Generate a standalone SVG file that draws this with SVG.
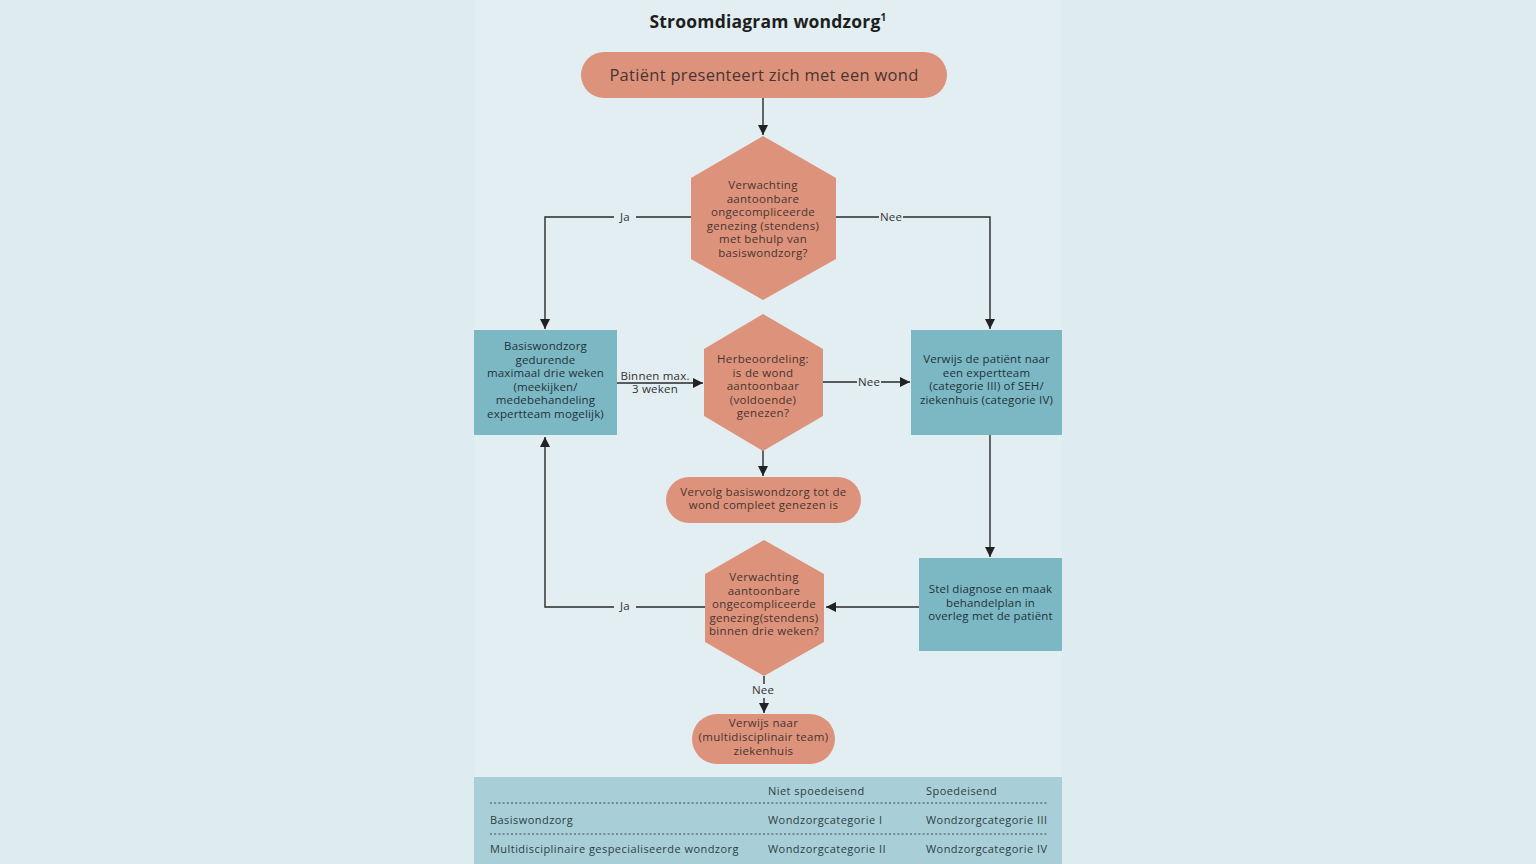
<svg xmlns="http://www.w3.org/2000/svg" width="1536" height="864" viewBox="0 0 1536 864">
<defs>
<marker id="ah" viewBox="0 0 10 10" refX="10" refY="5" markerWidth="10" markerHeight="10" markerUnits="userSpaceOnUse" orient="auto">
<path d="M0,0 L10,5 L0,10 Z" fill="#222"/>
</marker>
<style>
.t{font-family:"Open Sans","Noto Sans",sans-serif;text-anchor:middle;}
.n{font-size:11.5px;fill:#4a3431;letter-spacing:0.3px;}
.b{font-size:11.5px;fill:#1f3339;letter-spacing:0.15px;}
.sal{fill:#dd937b;}
.blu{fill:#7cb8c4;}
.ln{stroke:#2a2a2a;stroke-width:1.4;fill:none;}
.lab{font-family:"Open Sans","Noto Sans",sans-serif;font-size:11.5px;fill:#333;text-anchor:middle;letter-spacing:0.2px;}
.tb{font-family:"Open Sans","Noto Sans",sans-serif;font-size:11px;fill:#2e3e42;letter-spacing:0.45px;}
.dot{stroke:#3b4b50;stroke-width:1.2;stroke-dasharray:2 2.2;}
</style>
</defs>
<rect width="1536" height="864" fill="#deebf0"/>
<rect x="474" y="0" width="588" height="864" fill="#e2eef2"/>
<text x="768" y="28" style="font-family:'Open Sans','Noto Sans',sans-serif;font-weight:bold;font-size:17.5px;letter-spacing:0.2px;fill:#1e1e1e;text-anchor:middle">Stroomdiagram wondzorg<tspan font-size="10" dy="-7">1</tspan></text>

<g id="connectors">
<line class="ln" x1="763" y1="97" x2="763" y2="135" marker-end="url(#ah)"/>
<path class="ln" d="M691,217 H636 M614,217 H545 V329" marker-end="url(#ah)"/>
<path class="ln" d="M836,217 H879 M903,217 H990 V329" marker-end="url(#ah)"/>
<line class="ln" x1="617" y1="383" x2="703" y2="383" marker-end="url(#ah)"/>
<path class="ln" d="M823,382 H857 M881,382 H910" marker-end="url(#ah)"/>
<line class="ln" x1="763" y1="450" x2="763" y2="476" marker-end="url(#ah)"/>
<line class="ln" x1="990" y1="435" x2="990" y2="557" marker-end="url(#ah)"/>
<line class="ln" x1="919" y1="607" x2="826" y2="607" marker-end="url(#ah)"/>
<path class="ln" d="M705,607 H636 M614,607 H545 V437" marker-end="url(#ah)"/>
<path class="ln" d="M764,676 V684 M764,698 V713" marker-end="url(#ah)"/>
<text class="lab" x="625" y="221">Ja</text>
<text class="lab" x="891" y="221">Nee</text>
<text class="lab" x="655" y="380">Binnen max.</text>
<text class="lab" x="655" y="393">3 weken</text>
<text class="lab" x="869" y="386">Nee</text>
<text class="lab" x="625" y="610">Ja</text>
<text class="lab" x="763" y="694">Nee</text>
</g>

<g id="start">
<rect class="sal" x="581" y="52" width="366" height="46" rx="23"/>
<text class="t" x="764" y="81" style="font-size:16.5px;letter-spacing:0.3px;fill:#4a3431">Patiënt presenteert zich met een wond</text>
</g>

<g id="dec1">
<polygon class="sal" points="763,136 836,178 836,259 763,300 691,259 691,178"/>
<text class="t n"><tspan x="763" y="189">Verwachting</tspan><tspan x="763" y="202.5">aantoonbare</tspan><tspan x="763" y="216">ongecompliceerde</tspan><tspan x="763" y="229.5">genezing (stendens)</tspan><tspan x="763" y="243">met behulp van</tspan><tspan x="763" y="256.5">basiswondzorg?</tspan></text>
</g>

<g id="basis">
<rect class="blu" x="474" y="330" width="143" height="105"/>
<text class="t b"><tspan x="545.5" y="350">Basiswondzorg</tspan><tspan x="545.5" y="363.5">gedurende</tspan><tspan x="545.5" y="377">maximaal drie weken</tspan><tspan x="545.5" y="390.5">(meekijken/</tspan><tspan x="545.5" y="404">medebehandeling</tspan><tspan x="545.5" y="417.5">expertteam mogelijk)</tspan></text>
</g>

<g id="dec2">
<polygon class="sal" points="763,314 823,349 823,416 763,451 704,416 704,349"/>
<text class="t n"><tspan x="763" y="363">Herbeoordeling:</tspan><tspan x="763" y="376.5">is de wond</tspan><tspan x="763" y="390">aantoonbaar</tspan><tspan x="763" y="403.5">(voldoende)</tspan><tspan x="763" y="417">genezen?</tspan></text>
</g>

<g id="verwijs1">
<rect class="blu" x="911" y="330" width="151" height="105"/>
<text class="t b"><tspan x="986.5" y="363">Verwijs de patiënt naar</tspan><tspan x="986.5" y="376.5">een expertteam</tspan><tspan x="986.5" y="390">(categorie III) of SEH/</tspan><tspan x="986.5" y="403.5">ziekenhuis (categorie IV)</tspan></text>
</g>

<g id="vervolg">
<rect class="sal" x="666" y="477" width="195" height="46" rx="23"/>
<text class="t n"><tspan x="763.5" y="495.5">Vervolg basiswondzorg tot de</tspan><tspan x="763.5" y="509">wond compleet genezen is</tspan></text>
</g>

<g id="diagnose">
<rect class="blu" x="919" y="558" width="143" height="93"/>
<text class="t b"><tspan x="990.5" y="593">Stel diagnose en maak</tspan><tspan x="990.5" y="606.5">behandelplan in</tspan><tspan x="990.5" y="620">overleg met de patiënt</tspan></text>
</g>

<g id="dec3">
<polygon class="sal" points="764,540 824,574 824,642 764,676 705,642 705,574"/>
<text class="t n"><tspan x="764" y="581">Verwachting</tspan><tspan x="764" y="594.5">aantoonbare</tspan><tspan x="764" y="608">ongecompliceerde</tspan><tspan x="764" y="621.5">genezing(stendens)</tspan><tspan x="764" y="635">binnen drie weken?</tspan></text>
</g>

<g id="verwijs2">
<rect class="sal" x="692" y="714" width="143" height="50" rx="25"/>
<text class="t n"><tspan x="763.5" y="727">Verwijs naar</tspan><tspan x="763.5" y="741">(multidisciplinair team)</tspan><tspan x="763.5" y="755">ziekenhuis</tspan></text>
</g>

<g id="legend">
<rect x="474" y="777" width="588" height="87" fill="#a8cfd8"/>
<text class="tb" x="768" y="795">Niet spoedeisend</text>
<text class="tb" x="926" y="795">Spoedeisend</text>
<line class="dot" x1="490" y1="803" x2="1047" y2="803"/>
<text class="tb" x="490" y="824">Basiswondzorg</text>
<text class="tb" x="768" y="824">Wondzorgcategorie I</text>
<text class="tb" x="926" y="824">Wondzorgcategorie III</text>
<line class="dot" x1="490" y1="834" x2="1047" y2="834"/>
<text class="tb" x="490" y="853">Multidisciplinaire gespecialiseerde wondzorg</text>
<text class="tb" x="768" y="853">Wondzorgcategorie II</text>
<text class="tb" x="926" y="853">Wondzorgcategorie IV</text>
</g>
</svg>
